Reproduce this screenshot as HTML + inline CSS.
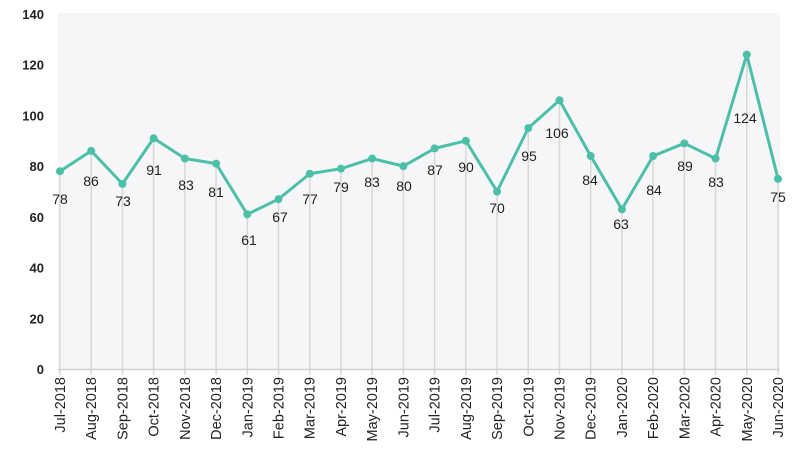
<!DOCTYPE html>
<html><head><meta charset="utf-8"><style>
body{margin:0;background:#fff;}
svg text{font-family:"Liberation Sans","DejaVu Sans",sans-serif;fill:#222;}
</style></head><body>
<svg width="800" height="450" xmlns="http://www.w3.org/2000/svg">
<rect x="58" y="13" width="722" height="356" fill="#f6f6f8"/>
<g id="g"></g>
</svg>
<script>
const vals=[78,86,73,91,83,81,61,67,77,79,83,80,87,90,70,95,106,84,63,84,89,83,124,75];
const months=["Jul-2018","Aug-2018","Sep-2018","Oct-2018","Nov-2018","Dec-2018","Jan-2019","Feb-2019","Mar-2019","Apr-2019","May-2019","Jun-2019","Jul-2019","Aug-2019","Sep-2019","Oct-2019","Nov-2019","Dec-2019","Jan-2020","Feb-2020","Mar-2020","Apr-2020","May-2020","Jun-2020"];
const lab=[[60,199],[91,181],[123,201],[154,170],[186,185],[216,192],[249,240],[280,217],[310,199],[341,187],[372,182],[404,186],[435,170],[466,167],[497,208],[529,156],[557,133],[590,180],[621,224],[654,190],[685,166],[716,182],[745,118],[778,197]];
const X=i=>60+i*(718/23), Y=v=>369-v*355/140;
let s='';
for(let v=0;v<=140;v+=20)s+=`<text x="44" y="${Y(v)+5}" text-anchor="end" font-size="13" font-weight="bold" fill="#333">${v}</text>`;
vals.forEach((v,i)=>{s+=`<line x1="${X(i)}" y1="${Y(v)}" x2="${X(i)}" y2="375" stroke="#d8d8d8" stroke-width="1.5"/>`;});
s+=`<line x1="58" y1="369.5" x2="780" y2="369.5" stroke="#d0d0d0" stroke-width="1.5"/>`;
s+=`<polyline fill="none" stroke="#4cbfa8" stroke-width="3" stroke-linejoin="round" points="${vals.map((v,i)=>X(i)+','+Y(v)).join(' ')}"/>`;
vals.forEach((v,i)=>{s+=`<circle cx="${X(i)}" cy="${Y(v)}" r="4" fill="#4cbfa8"/>`;
s+=`<text x="${lab[i][0]}" y="${lab[i][1]+5}" text-anchor="middle" font-size="14" fill="#222">${v}</text>`;
s+=`<text transform="translate(${X(i)+5},377) rotate(-90)" text-anchor="end" font-size="14.5" fill="#222">${months[i]}</text>`;});
document.getElementById('g').innerHTML=s;
</script>
</body></html>
